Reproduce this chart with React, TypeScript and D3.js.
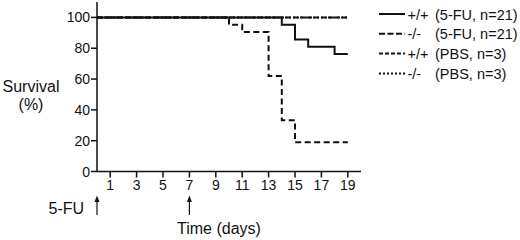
import React from "react";
import * as d3 from "d3";

const xTicks = [1, 3, 5, 7, 9, 11, 13, 15, 17, 19];
const yTicks = [0, 20, 40, 60, 80, 100];

const wt5fuDays = [0, 14, 15, 16, 18, 19];
const wt5fuSurv = [100, 95.2, 85.7, 81.0, 76.2, 76.2];
const ko5fuDays = [0, 10, 11, 13, 14, 15, 19];
const ko5fuSurv = [100, 95.2, 90.5, 61.9, 33.3, 19.0, 19.0];
const wtPbsDays = [0, 19];
const wtPbsSurv = [100, 100];
const koPbsDays = [0, 19];
const koPbsSurv = [100, 100];

const legendGenotypes = ["+/+", "-/-", "+/+", "-/-"];
const legendGroups = ["(5-FU, n=21)", "(5-FU, n=21)", "(PBS, n=3)", "(PBS, n=3)"];
const treatmentDays = [0, 7];

const FONT = "'Liberation Sans', Arial, Helvetica, sans-serif";

export default function App() {
  const W = 520, H = 240;
  const x = d3.scaleLinear().domain([0, 20]).range([97, 361]);
  const y = d3.scaleLinear().domain([0, 110]).range([171.5, 2]);
  const line = d3
    .line<[number, number]>()
    .x((d) => x(d[0]))
    .y((d) => y(d[1]))
    .curve(d3.curveStepAfter);
  const zip = (a: number[], b: number[]) => a.map((v, i) => [v, b[i]] as [number, number]);

  const series = [
    { d: zip(koPbsDays, koPbsSurv), dash: "2,2" },
    { d: zip(wtPbsDays, wtPbsSurv), dash: "5,2" },
    { d: zip(ko5fuDays, ko5fuSurv), dash: "6,3.5" },
    { d: zip(wt5fuDays, wt5fuSurv), dash: "none" },
  ];
  const legendDash = ["none", "6,2.5", "4,2", "2,2"];

  const axisY0 = y(0);
  const axisX0 = x(0);

  return (
    <svg width={W} height={H} style={{ position: "absolute", left: 0, top: 0, background: "#fff" }} fontFamily={FONT}>
      <rect width={W} height={H} fill="#fff" />
      {/* axes */}
      <line x1={axisX0} x2={axisX0} y1={y(110)} y2={axisY0} stroke="#111" strokeWidth={1.5} />
      <line x1={axisX0} x2={x(20)} y1={axisY0} y2={axisY0} stroke="#111" strokeWidth={1.5} />
      {yTicks.map((t) => (
        <g key={"y" + t}>
          <line x1={axisX0 - 6} x2={axisX0} y1={y(t)} y2={y(t)} stroke="#111" strokeWidth={1.5} />
          <text x={axisX0 - 7} y={y(t) + 5} fontSize={14} textAnchor="end" fill="#111">
            {t}
          </text>
        </g>
      ))}
      {xTicks.map((t) => (
        <g key={"x" + t}>
          <line x1={x(t)} x2={x(t)} y1={axisY0} y2={axisY0 + 6} stroke="#111" strokeWidth={1.5} />
          <text x={x(t)} y={axisY0 + 18} fontSize={14} textAnchor="middle" fill="#111">
            {t}
          </text>
        </g>
      ))}
      {/* series */}
      {series.map((s, i) => (
        <path key={i} d={line(s.d) || ""} fill="none" stroke="#111" strokeWidth={2} strokeDasharray={s.dash} />
      ))}
      {/* y label */}
      <text x={31} y={91.5} fontSize={16} textAnchor="middle" fill="#111">Survival</text>
      <text x={31} y={109.5} fontSize={16} textAnchor="middle" fill="#111">(%)</text>
      {/* treatment arrows */}
      {treatmentDays.map((d) => (
        <g key={"a" + d}>
          <line x1={x(d)} x2={x(d)} y1={199} y2={215} stroke="#111" strokeWidth={1.2} />
          <path d={`M${x(d)},195.5 L${x(d) - 2.5},202 L${x(d) + 2.5},202 Z`} fill="#111" />
        </g>
      ))}
      <text x={48.5} y={213.5} fontSize={16} fill="#111">5-FU</text>
      <text x={177} y={233.5} fontSize={16} fill="#111">Time (days)</text>
      {/* legend */}
      {legendGenotypes.map((g, i) => {
        const ly = 14 + i * 19.8;
        return (
          <g key={"l" + i}>
            <line x1={379} x2={405} y1={ly} y2={ly} stroke="#111" strokeWidth={2} strokeDasharray={legendDash[i]} />
            <text x={407.5} y={ly + 5.5} fontSize={14.5} fill="#111">{g}</text>
            <text x={435} y={ly + 5.5} fontSize={14.5} fill="#111">{legendGroups[i]}</text>
          </g>
        );
      })}
    </svg>
  );
}
